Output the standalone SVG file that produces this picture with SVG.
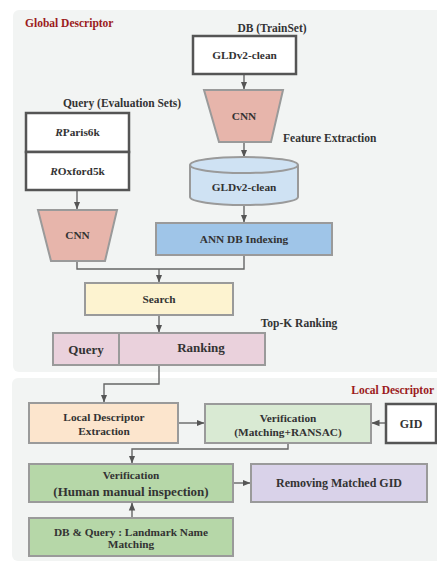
<svg xmlns="http://www.w3.org/2000/svg" width="437" height="562" viewBox="0 0 437 562">
<defs>
<style>
text{font-family:"Liberation Serif","Times New Roman",serif;font-weight:bold;fill:#333;text-anchor:middle}
.t11{font-size:11.3px}
.t12{font-size:12px}
.t13{font-size:13px}
.title{fill:#9b1b20;font-size:11.5px;text-anchor:start}
.lab{font-size:11.5px}
.box{stroke:#9a9a9a;stroke-width:2}
.dark{fill:#fff;stroke:#555;stroke-width:2.5}
.con{fill:none;stroke:#666;stroke-width:1.4}
</style>
<marker id="ah" viewBox="0 0 8 8" refX="7.5" refY="4" markerWidth="8" markerHeight="8" markerUnits="userSpaceOnUse" orient="auto">
<path d="M0,0.8 L8,4 L0,7.2 Z" fill="#555"/>
</marker>
</defs>
<rect width="437" height="562" fill="#fff"/>
<rect id="panel-global" x="13" y="10" width="440" height="362" rx="6" fill="#f2f4f3"/>
<rect id="panel-local" x="12" y="378" width="440" height="183" rx="6" fill="#f2f4f3"/>
<text class="title" x="25" y="27">Global Descriptor</text>
<text class="title" x="434" y="394" style="text-anchor:end">Local Descriptor</text>

<g id="connectors">
<path class="con" d="M244,74 V89" marker-end="url(#ah)"/>
<path class="con" d="M244,142 V157" marker-end="url(#ah)"/>
<path class="con" d="M244,205 V222" marker-end="url(#ah)"/>
<path class="con" d="M77,190 V209" marker-end="url(#ah)"/>
<path class="con" d="M77,261 V269 H244 V255"/>
<path class="con" d="M159,269 V282" marker-end="url(#ah)"/>
<path class="con" d="M159,315 V332" marker-end="url(#ah)"/>
<path class="con" d="M159,365 V384 H104 V402" marker-end="url(#ah)"/>
<path class="con" d="M178,423 H204" marker-end="url(#ah)"/>
<path class="con" d="M386,423 H372" marker-end="url(#ah)"/>
<path class="con" d="M288,443 V449 H132 V463" marker-end="url(#ah)"/>
<path class="con" d="M233,483 H250" marker-end="url(#ah)"/>
<path class="con" d="M132,518 V503" marker-end="url(#ah)"/>
</g>

<g id="db-label"><text class="lab" x="272" y="32">DB (TrainSet)</text></g>
<g id="gldv2-db">
<rect class="dark" x="193" y="36" width="103" height="38"/>
<text class="t11" x="244.5" y="59">GLDv2-clean</text>
</g>
<g id="cnn-db">
<polygon class="box" points="204,90 283,90 271,142 219,142" fill="#e7b5ab"/>
<text class="t11" x="244" y="120">CNN</text>
</g>
<g id="feature-extraction-label"><text class="lab" x="283" y="142" style="text-anchor:start">Feature Extraction</text></g>
<g id="gldv2-features">
<path class="box" d="M190,165 V197 A54,8 0 0 0 298,197 V165 A54,8 0 0 0 190,165 Z" fill="#cfe2f3"/>
<path d="M190,165 A54,8 0 0 0 298,165" fill="none" stroke="#9a9a9a" stroke-width="2"/>
<text class="t11" x="244" y="191">GLDv2-clean</text>
</g>
<g id="ann">
<rect class="box" x="156" y="223" width="176" height="32" fill="#9fc5e8"/>
<text class="t11" x="244" y="243">ANN DB Indexing</text>
</g>
<g id="query-label"><text class="lab" x="122" y="107">Query (Evaluation Sets)</text></g>
<g id="rparis">
<rect class="dark" x="26" y="113" width="103" height="39"/>
<text class="t11" x="77.5" y="136"><tspan font-style="italic">R</tspan>Paris6k</text>
</g>
<g id="roxford">
<rect class="dark" x="26" y="152" width="103" height="38"/>
<text class="t11" x="77.5" y="175"><tspan font-style="italic">R</tspan>Oxford5k</text>
</g>
<g id="cnn-query">
<polygon class="box" points="38,210 117,210 105,261 51,261" fill="#e7b5ab"/>
<text class="t11" x="77.5" y="239">CNN</text>
</g>
<g id="search">
<rect class="box" x="85" y="283" width="148" height="32" fill="#fdf3d0"/>
<text class="t11" x="159" y="303">Search</text>
</g>
<g id="topk-label"><text class="lab" x="299" y="327">Top-K Ranking</text></g>
<g id="query">
<rect class="box" x="53" y="333" width="66" height="32" fill="#ead1dc"/>
<text class="t13" x="86" y="353.5">Query</text>
</g>
<g id="ranking">
<rect class="box" x="119" y="333" width="146" height="32" fill="#ead1dc"/>
<text class="t13" x="201" y="352">Ranking</text>
</g>
<g id="local-extraction">
<rect class="box" x="29" y="403" width="149" height="40" fill="#fce5cd"/>
<text class="t11" x="104" y="421">Local Descriptor</text>
<text class="t11" x="104" y="435">Extraction</text>
</g>
<g id="verification-ransac">
<rect class="box" x="205" y="404" width="166" height="39" fill="#d9ead3"/>
<text class="t11" x="288" y="422">Verification</text>
<text class="t11" x="288" y="436">(Matching+RANSAC)</text>
</g>
<g id="gid">
<rect class="dark" x="386" y="404" width="50" height="39"/>
<text class="t12" x="411" y="427.5">GID</text>
</g>
<g id="verification-human">
<rect class="box" x="29" y="464" width="204" height="38" fill="#b6d7a8"/>
<text class="t11" x="131" y="479">Verification</text>
<text class="t13" x="131" y="495.5">(Human manual inspection)</text>
</g>
<g id="removing">
<rect class="box" x="251" y="464" width="176" height="38" fill="#d9d2e9"/>
<text class="t12" x="339" y="487">Removing Matched GID</text>
</g>
<g id="name-matching">
<rect class="box" x="29" y="518" width="204" height="38" fill="#b6d7a8"/>
<text class="t11" x="131" y="536">DB &amp; Query : Landmark Name</text>
<text class="t11" x="131" y="548">Matching</text>
</g>
</svg>
